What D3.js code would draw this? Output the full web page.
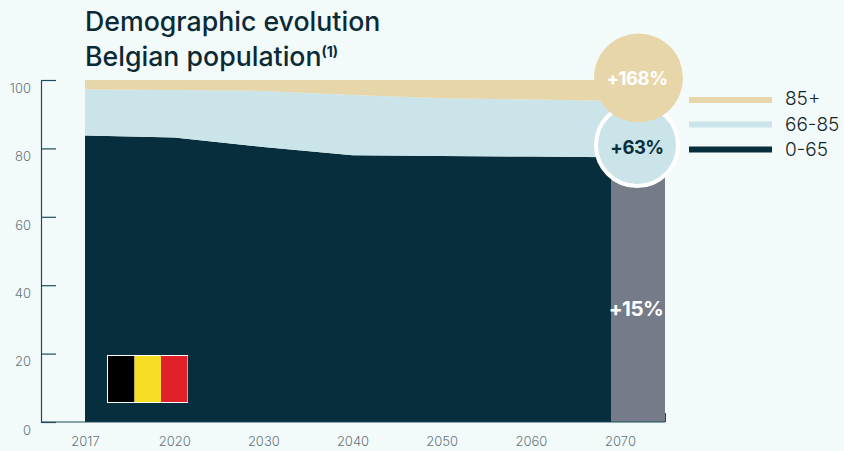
<!DOCTYPE html>
<html><head><meta charset="utf-8">
<script src="https://cdn.jsdelivr.net/npm/d3@7"></script>
<style>
html,body{margin:0;padding:0;background:#f2fbfa;}
svg{display:block;}
text{font-family:Inter,sans-serif;}
</style></head><body>
<div id="chart"></div>
<script>
const years=["2017","2020","2030","2040","2050","2060","2070"];
const young=[83.8,83.2,80.4,78,77.8,77.6,77.4];
const middle=[13.4,13.9,16.4,17.6,16.9,16.7,16.5];
const old=[2.8,2.9,3.2,4.4,5.3,5.7,6.1];
const yTicks=[0,20,40,60,80,100];
const legendLabels=["85+","66-85","0-65"];
const growthLabels=["+168%","+63%","+15%"];
const colors={old:"#e8d6ab",middle:"#cae4ea",young:"#072e3c",grey:"#757b88",bg:"#f2fbfa",axis:"#1f4a5a",tick:"#65757c"};

const W=844,H=451;
const svg=d3.select("#chart").append("svg").attr("width",W).attr("height",H);
svg.append("rect").attr("width",W).attr("height",H).attr("fill",colors.bg);

const x=d3.scalePoint().domain(years).range([85,620]);
const y=d3.scaleLinear().domain([0,100]).range([422,80]);
const rows=years.map((yr,i)=>({yr,young:young[i],middle:middle[i],old:old[i]}));
const stack=d3.stack().keys(["young","middle","old"])(rows);
const area=d3.area().x(d=>x(d.data.yr)).y0(d=>y(d[0])).y1(d=>y(d[1]));

// grey projection bar
svg.append("rect").attr("x",611).attr("y",y(100)).attr("width",54).attr("height",y(0)-y(100)).attr("fill",colors.grey);

svg.append("clipPath").attr("id","c").append("rect").attr("x",85).attr("y",70).attr("width",526).attr("height",360);
svg.append("g").attr("clip-path","url(#c)").selectAll("path").data(stack).join("path")
  .attr("d",area).attr("fill",d=>colors[d.key]);

// axes
const gy=svg.append("g").attr("transform","translate(41,0)").call(d3.axisLeft(y).tickValues(yTicks).tickSize(-15).tickPadding(10).tickSizeOuter(0));
gy.select(".domain").attr("stroke",colors.axis).attr("stroke-width",1.2);
gy.selectAll(".tick line").attr("stroke",colors.axis).attr("stroke-width",1.2);
gy.selectAll("text").attr("x",-10).attr("dy","0.95em").attr("fill",colors.tick).attr("font-size",13).attr("font-weight",300).style("font-family","Inter");
const gx=svg.append("g").attr("transform","translate(0,422)").call(d3.axisBottom(x).tickSize(0).tickPadding(15));
gx.select(".domain").remove();
gx.selectAll("text").attr("fill",colors.tick).attr("font-size",13).attr("font-weight",300).style("font-family","Inter");
svg.append("line").attr("x1",41).attr("x2",665).attr("y1",y(0)).attr("y2",y(0)).attr("stroke",colors.axis).attr("stroke-width",1.2);
svg.append("line").attr("x1",665.5).attr("x2",665.5).attr("y1",y(0)).attr("y2",y(0)-9).attr("stroke",colors.axis).attr("stroke-width",1);

// flag
const flag=svg.append("g");
flag.append("rect").attr("x",107).attr("y",355).attr("width",81).attr("height",48).attr("fill","#fff");
["#000000","#f6de25","#e0212a"].forEach((c,i)=>flag.append("rect").attr("x",108+i*26.5).attr("y",356).attr("width",26.5).attr("height",46).attr("fill",c));

// bubbles
svg.append("circle").attr("cx",637).attr("cy",145).attr("r",41).attr("fill",colors.middle).attr("stroke","#fff").attr("stroke-width",4);
svg.append("circle").attr("cx",638.5).attr("cy",78).attr("r",44.5).attr("fill",colors.old);
const lbl=(t,cx,cy,fill,size)=>svg.append("text").attr("x",cx).attr("y",cy).attr("text-anchor","middle").attr("dominant-baseline","central").attr("fill",fill).attr("font-size",size).attr("font-weight",700).style("letter-spacing","-0.5px").text(t);
lbl(growthLabels[0],637,78,"#fff",18.5);
lbl(growthLabels[1],637,147,colors.young,18.5);
lbl(growthLabels[2],636,308,"#fff",20.5);

// legend
const legY=[100,124.5,149.5], legTextOffset=[-2,-0.5,-0.5], legC=[colors.old,colors.middle,colors.young];
legendLabels.forEach((t,i)=>{
  svg.append("line").attr("x1",689).attr("x2",772).attr("y1",legY[i]).attr("y2",legY[i]).attr("stroke",legC[i]).attr("stroke-width",6);
  svg.append("text").attr("x",785).attr("y",legY[i]+legTextOffset[i]).attr("dominant-baseline","central").attr("fill","#14252c").attr("font-size",19).attr("font-weight",300).text(t);
});

// title
const title=(t,yy)=>svg.append("text").attr("x",85).attr("y",yy).attr("fill","#0b2a36").attr("font-size",26.7).attr("font-weight",500).text(t);
title("Demographic evolution",31);
const t2=title("Belgian population",66);
t2.append("tspan").attr("dy",-9).attr("font-size",14).attr("font-weight",700).text("(1)");
</script>
</body></html>
